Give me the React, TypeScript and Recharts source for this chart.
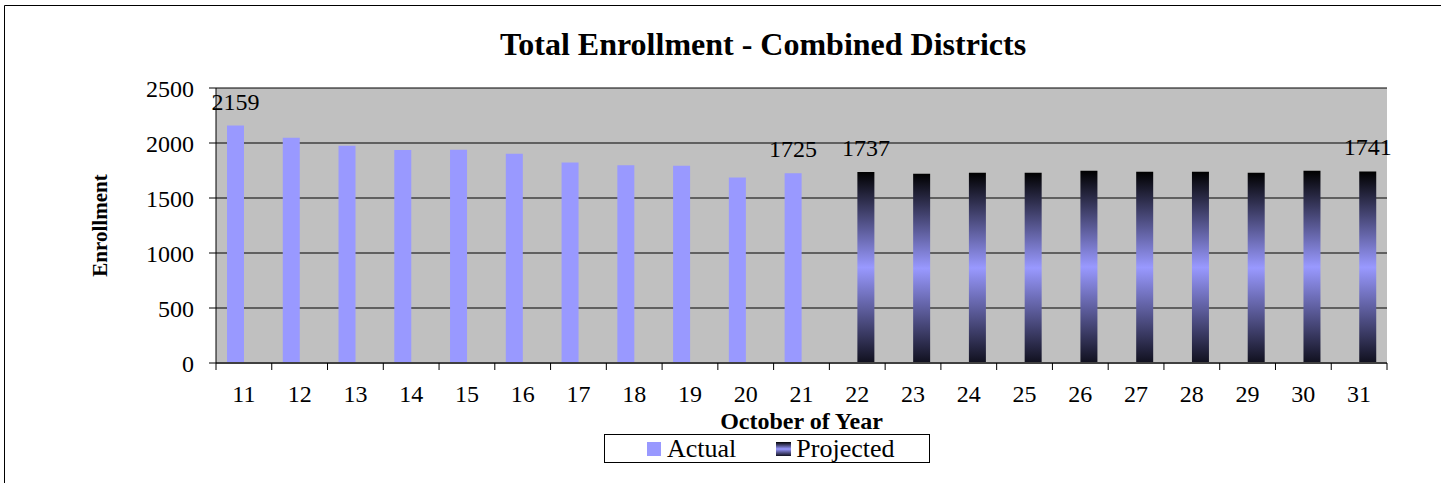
import React from 'react';
import { BarChart, Bar, XAxis, YAxis, CartesianGrid, Legend, LabelList, Label } from 'recharts';

// October of each year, actual counts up to 21, projections after
const years = ['11', '12', '13', '14', '15', '16', '17', '18', '19', '20', '21', '22', '23', '24', '25', '26', '27', '28', '29', '30', '31'];
const actual = [2159, 2048, 1975, 1937, 1939, 1902, 1823, 1797, 1793, 1686, 1725, null, null, null, null, null, null, null, null, null, null];
const projected = [null, null, null, null, null, null, null, null, null, null, null, 1737, 1720, 1729, 1729, 1747, 1738, 1738, 1729, 1747, 1741];
const labeledYears = ['11', '21', '22', '31'];
const yTicks = [0, 500, 1000, 1500, 2000, 2500];

const FONT = '"Liberation Serif", "Times New Roman", serif';
const W = 1441;
const H = 483;
const TICK_LEN = 7;
const TICK_GAP = 32;

const data = years.map((y, i) => {
  const shown = labeledYears.includes(y);
  return {
    year: y,
    Actual: actual[i],
    Projected: projected[i],
    actualLabel: shown ? actual[i] : null,
    projectedLabel: shown ? projected[i] : null,
  };
});

const YearTick = (props: any) => {
  const { x, y, payload, index } = props;
  const half = payload?.offset ?? 27.9;
  const axisY = y - TICK_GAP - TICK_LEN;
  return (
    <g>
      <line x1={x - half} x2={x - half} y1={axisY} y2={axisY + TICK_LEN} stroke="#000" />
      {index === years.length - 1 && (
        <line x1={x + half} x2={x + half} y1={axisY} y2={axisY + TICK_LEN} stroke="#000" />
      )}
      <text x={x} y={y} textAnchor="middle" fontSize={24} fontFamily={FONT} fill="#000">
        {payload.value}
      </text>
    </g>
  );
};

const valueLabel = (props: any) => {
  const { x, y, width, value } = props;
  if (value == null) return null;
  return (
    <text x={x + width / 2} y={y - 16} textAnchor="middle" fontSize={24} fontFamily={FONT} fill="#000">
      {value}
    </text>
  );
};

const LegendBox = () => (
  <div
    style={{
      boxSizing: 'border-box',
      width: '100%',
      height: '100%',
      border: '1px solid #000',
      background: '#fff',
      display: 'flex',
      alignItems: 'center',
      paddingLeft: 42,
      fontFamily: FONT,
      fontSize: 26,
      color: '#000',
      lineHeight: 1,
    }}
  >
    <span style={{ width: 14, height: 14, background: '#9999ff', marginRight: 6, flex: 'none' }} />
    <span style={{ marginRight: 40 }}>Actual</span>
    <span
      style={{
        width: 15,
        height: 14,
        flex: 'none',
        background: 'linear-gradient(to bottom, #000 0%, #9999ff 50%, #10101e 100%)',
        marginRight: 5,
      }}
    />
    <span>Projected</span>
  </div>
);

export default function App() {
  return (
    <div style={{ position: 'absolute', left: 0, top: 0, width: W, height: H, background: '#fff' }}>
      <BarChart
        width={W}
        height={H}
        data={data}
        margin={{ top: 88, right: 54, bottom: 50, left: 0 }}
        barGap={0}
        barSize={17}
      >
        <defs>
          <linearGradient id="projFill" x1="0" y1="0" x2="0" y2="1">
            <stop offset="0%" stopColor="#000000" />
            <stop offset="50%" stopColor="#9999ff" />
            <stop offset="100%" stopColor="#10101e" />
          </linearGradient>
        </defs>
        <CartesianGrid vertical={false} stroke="#000" fill="#c0c0c0" fillOpacity={1} />
        <XAxis
          dataKey="year"
          interval={0}
          height={70}
          axisLine={{ stroke: '#404040', strokeWidth: 2 }}
          tickLine={false}
          tickSize={TICK_LEN}
          tickMargin={TICK_GAP}
          tick={<YearTick />}
        >
          <Label
            value="October of Year"
            position="insideBottom"
            offset={4}
            style={{ fontFamily: FONT, fontSize: 24, fontWeight: 'bold', fill: '#000' }}
          />
        </XAxis>
        <XAxis
          xAxisId="top"
          orientation="top"
          dataKey="year"
          height={0}
          tick={false}
          tickLine={false}
          axisLine={{ stroke: '#808080', strokeWidth: 2 }}
        />
        <YAxis
          width={216}
          domain={[0, 2500]}
          ticks={yTicks}
          interval={0}
          tickSize={TICK_LEN}
          tickMargin={15}
          axisLine={{ stroke: '#000' }}
          tickLine={{ stroke: '#000' }}
          tick={{ fontSize: 24, fontFamily: FONT, fill: '#000' }}
        >
          <Label
            value="Enrollment"
            angle={-90}
            position="insideLeft"
            offset={100}
            style={{ fontFamily: FONT, fontSize: 21, fontWeight: 'bold', fill: '#000', textAnchor: 'middle' }}
          />
        </YAxis>
        <YAxis
          yAxisId="right"
          orientation="right"
          width={0}
          domain={[0, 2500]}
          tick={false}
          tickLine={false}
          axisLine={{ stroke: '#808080', strokeWidth: 2 }}
        />
        <Legend
          layout="vertical"
          align="center"
          verticalAlign="middle"
          wrapperStyle={{ left: 604, top: 434, width: 326, height: 29 }}
          content={<LegendBox />}
        />
        <Bar dataKey="Actual" fill="#9999ff" isAnimationActive={false}>
          <LabelList dataKey="actualLabel" content={valueLabel} />
        </Bar>
        <Bar dataKey="Projected" fill="url(#projFill)" isAnimationActive={false}>
          <LabelList dataKey="projectedLabel" content={valueLabel} />
        </Bar>
      </BarChart>
      <svg width={W} height={H} style={{ position: 'absolute', left: 0, top: 0, pointerEvents: 'none' }}>
        <path d={`M4.5 ${H} V5.5 H${W}`} fill="none" stroke="#000" />
        <text x={763} y={55} textAnchor="middle" fontFamily={FONT} fontSize={32} fontWeight="bold" fill="#000">
          Total Enrollment - Combined Districts
        </text>
      </svg>
    </div>
  );
}
